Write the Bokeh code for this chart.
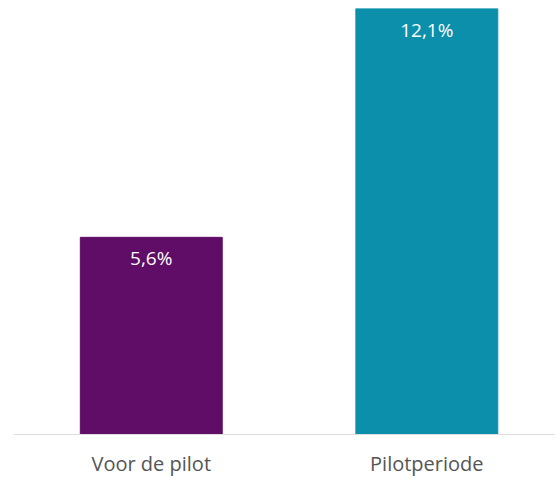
from bokeh.plotting import figure
from bokeh.models import ColumnDataSource, Range1d, FixedTicker, LabelSet
from bokeh.core.properties import value
from bokeh.embed import file_html
from bokeh.resources import INLINE

categories = ["Voor de pilot", "Pilotperiode"]
values = [5.6, 12.1]
labels = ["5,6%", "12,1%"]
colors = ["#5f0d66", "#0b8fab"]

xpos = [0.5, 1.5]
src = ColumnDataSource(dict(x=xpos, top=values, color=colors, label=labels))

p = figure(width=555, height=479, output_backend="svg", toolbar_location=None,
           x_range=Range1d(0, 1.967), y_range=Range1d(0, 12.1),
           min_border_left=13, min_border_right=0, min_border_top=8, min_border_bottom=44)
p.vbar(x="x", top="top", bottom=0, width=0.515, color="color", source=src)

p.add_layout(LabelSet(x="x", y="top", text="label", source=src, text_color="white",
                      text_font=value("Open Sans"), text_font_size="19px", text_align="center",
                      text_baseline="middle", y_offset=-21))

p.yaxis.visible = False
p.xgrid.visible = False
p.ygrid.visible = False
p.outline_line_color = None
p.xaxis.ticker = FixedTicker(ticks=xpos)
p.xaxis.major_label_overrides = {x: c for x, c in zip(xpos, categories)}
p.xaxis.major_tick_line_color = None
p.xaxis.minor_tick_line_color = None
p.xaxis.major_tick_out = 0
p.xaxis.major_tick_in = 0
p.xaxis.axis_line_color = "#dddddd"
p.xaxis.major_label_text_font = "Open Sans"
p.xaxis.major_label_text_font_size = "20px"
p.xaxis.major_label_text_color = "#555555"
p.xaxis.major_label_standoff = 15

open("out.html", "w").write(file_html(p, INLINE))
